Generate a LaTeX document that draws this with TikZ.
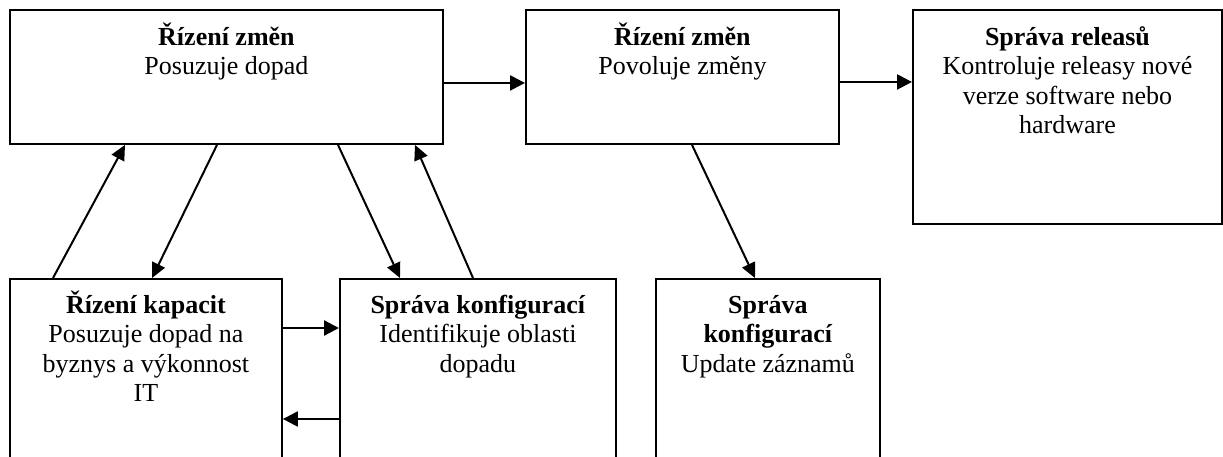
\documentclass[tikz,border=0pt]{standalone}
\usepackage{fontspec}
\setmainfont{Liberation Serif}
\usetikzlibrary{arrows.meta}
\begin{document}
\begin{tikzpicture}[x=1pt,y=-1pt,
  box/.style={draw=black, line width=1.9pt, anchor=north west, inner sep=0pt},
  txt/.style={anchor=north, align=center, inner sep=0pt,
    font=\fontsize{26}{29.5}\selectfont},
  flow/.style={line width=2.3pt, -{Triangle[length=15pt,width=15pt]}},
  link/.style={line width=2pt, -{Triangle[length=15pt,width=14pt]}}]
\useasboundingbox (0,0) rectangle (1223,456);
\clip (0,0) rectangle (1223,456);

% upper row
\node[box, minimum width=433pt, minimum height=134pt] (A) at (9,9) {};
\node[box, minimum width=313pt, minimum height=134pt] (B) at (525,9) {};
\node[box, minimum width=309pt, minimum height=214pt] (C) at (912,9) {};

% lower row (runs past the bottom edge)
\node[box, minimum width=272pt, minimum height=200pt] (D) at (9,278) {};
\node[box, minimum width=276pt, minimum height=200pt] (E) at (339,278) {};
\node[box, minimum width=224pt, minimum height=200pt] (F) at (655,278) {};

% box texts
\node[txt] (At) at ([yshift=-12pt]A.north) {\rule{0pt}{24pt}\textbf{Řízení změn}\\Posuzuje dopad};
\node[txt] (Bt) at ([yshift=-12pt]B.north) {\rule{0pt}{24pt}\textbf{Řízení změn}\\Povoluje změny};
\node[txt] (Ct) at ([yshift=-12pt]C.north) {\rule{0pt}{24pt}\textbf{Správa releasů}\\Kontroluje releasy nové\\verze software nebo\\hardware};
\node[txt] (Dt) at ([yshift=-11pt]D.north) {\rule{0pt}{24pt}\textbf{Řízení kapacit}\\Posuzuje dopad na\\byznys a výkonnost\\IT};
\node[txt] (Et) at ([yshift=-11pt]E.north) {\rule{0pt}{24pt}\textbf{Správa konfigurací}\\Identifikuje oblasti\\dopadu};
\node[txt] (Ft) at ([yshift=-11pt]F.north) {\rule{0pt}{24pt}\textbf{Správa}\\\textbf{konfigurací}\\Update záznamů};

% horizontal flow
\draw[flow] ([yshift=-6pt]A.east) -- ([yshift=-6pt]A.east -| B.west);
\draw[flow] ([yshift=-5pt]B.east) -- ([yshift=-5pt]B.east -| C.west);
\draw[flow] ([yshift=-50pt]D.north east) -- ([yshift=-50pt]D.north east -| E.west);
\draw[flow] ([yshift=-141pt]E.north west) -- ([yshift=-141pt]E.north west -| D.east);

% diagonal links
\draw[link] ([xshift=44pt]D.north west) -- ([xshift=116pt]A.south west);
\draw[link] ([xshift=208pt]A.south west) -- ([xshift=143pt]D.north west);
\draw[link] ([xshift=329pt]A.south west) -- ([xshift=61pt]E.north west);
\draw[link] ([xshift=134pt]E.north west) -- ([xshift=406pt]A.south west);
\draw[link] ([xshift=167pt]B.south west) -- ([xshift=100pt]F.north west);
\end{tikzpicture}
\end{document}
